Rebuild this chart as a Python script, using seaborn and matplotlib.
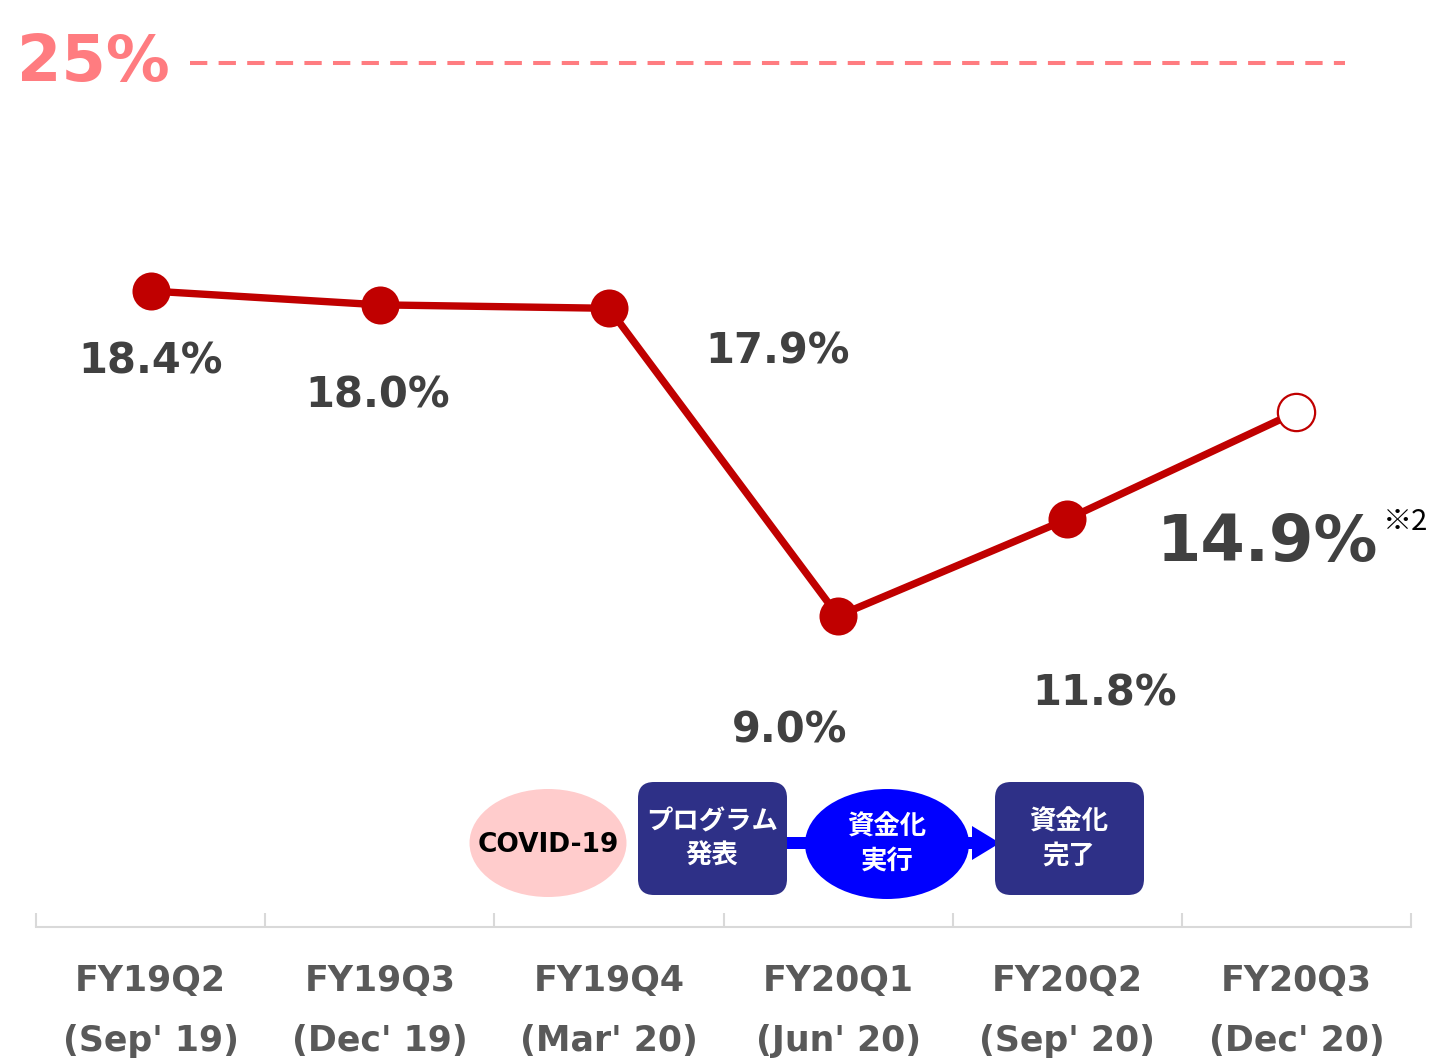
import numpy as np
import pandas as pd
import matplotlib
matplotlib.use('Agg')
import matplotlib.pyplot as plt
import seaborn as sns
from matplotlib.patches import Ellipse, FancyBboxPatch, Rectangle, Polygon


# データ
quarters = ['FY19Q2', 'FY19Q3', 'FY19Q4', 'FY20Q1', 'FY20Q2', 'FY20Q3']
months = ["(Sep' 19)", "(Dec' 19)", "(Mar' 20)", "(Jun' 20)", "(Sep' 20)", "(Dec' 20)"]
ratio = [18.4, 18.0, 17.9, 9.0, 11.8, 14.9]
target = 25.0

# ラベル位置のずれ（ピクセル）
label_offsets = [(0, -70), (-2, -91), (169, -43), (-48, -115), (37, -174), (-29, -131)]

LINE_RED = '#C00000'
TARGET_PINK = '#FF7C80'
LABEL_GRAY = '#404040'
TICK_GRAY = '#595959'
NAVY = '#2E3087'
BLUE = '#0000FF'

sns.set_style('white')
plt.rcParams['font.family'] = ['DejaVu Sans', 'Noto Sans CJK JP']

fig = plt.figure(figsize=(14.33, 10.63), dpi=100)
ax = fig.add_axes([36 / 1433, 136 / 1063, 1375 / 1433, 927 / 1063])

df = pd.DataFrame({'pos': np.arange(len(quarters)), 'ratio': ratio})

# 折れ線
sns.lineplot(data=df, x='pos', y='ratio', color=LINE_RED, linewidth=5.3,
             ax=ax, zorder=2)
# 実績（塗りつぶし）と見込み（白抜き）
sns.scatterplot(data=df.iloc[:-1], x='pos', y='ratio', color=LINE_RED,
                s=750, edgecolor=LINE_RED, linewidth=0, ax=ax, zorder=3)
sns.scatterplot(data=df.iloc[-1:], x='pos', y='ratio', color='white',
                s=720, edgecolor=LINE_RED, linewidth=1.6, ax=ax, zorder=3)

# 値ラベル
for i, (val, (dx, dy)) in enumerate(zip(ratio, label_offsets)):
    big = i == len(ratio) - 1
    ax.annotate(f'{val:.1f}%', (i, val), xytext=(dx, dy),
                textcoords='offset pixels', ha='center', va='center',
                fontsize=46 if big else 30, fontweight='bold',
                color=LABEL_GRAY)
ax.annotate('※2', (len(ratio) - 1, ratio[-1]), xytext=(86, -110),
            textcoords='offset pixels', ha='left', va='center',
            fontsize=21, color='black', annotation_clip=False,
            family=['Noto Sans CJK JP', 'DejaVu Sans'])

# 目標ライン 25%
ax.hlines(target, 0.17, 5.21, colors=TARGET_PINK, linewidth=2.9,
          linestyles=(0, (4.3, 2.8)))
ax.text(-0.25, target, f'{target:.0f}%', ha='center', va='center',
        fontsize=46, fontweight='bold', color=TARGET_PINK)

# 軸
ax.set_xlim(-0.5, len(quarters) - 0.5)
ax.set_ylim(0, 26.82)
ax.set_xlabel('')
ax.set_ylabel('')
ax.set_yticks([])
ax.set_xticks(np.arange(len(quarters)))
ax.set_xticklabels([f'{q}\n{m}' for q, m in zip(quarters, months)],
                   fontsize=25, fontweight='bold', color=TICK_GRAY,
                   linespacing=1.95)
ax.set_xticks(np.arange(-0.5, len(quarters)), minor=True)
ax.tick_params(axis='x', which='both', bottom=True)
ax.tick_params(axis='x', which='major', length=0, pad=27)
ax.tick_params(axis='x', which='minor', direction='in', length=10,
               width=1.5, color='#D9D9D9')
for side in ['top', 'left', 'right']:
    ax.spines[side].set_visible(False)
ax.spines['bottom'].set_color('#D9D9D9')
ax.spines['bottom'].set_linewidth(1.5)

# 下部のプロセス図（装飾）
deco = fig.add_axes([0, 0, 1, 1], zorder=5)
deco.set_xlim(0, 1433)
deco.set_ylim(1063, 0)
deco.axis('off')
deco.patch.set_alpha(0)

jp = ['Noto Sans CJK JP', 'DejaVu Sans']
deco.add_patch(Rectangle((787, 837), 190, 12, color=BLUE, lw=0))
deco.add_patch(Polygon([(972, 826), (1000, 843), (972, 860)], closed=True,
                       color=BLUE, lw=0))
deco.add_patch(Ellipse((548, 843), 157, 108, color='#FFCCCC', lw=0))
deco.text(548, 845, 'COVID-19', ha='center', va='center', fontsize=19,
          fontweight='bold', color='black')
for x0, txt in [(638, 'プログラム\n発表'), (995, '資金化\n完了')]:
    deco.add_patch(FancyBboxPatch((x0, 782), 149, 113,
                                  boxstyle='round,pad=0,rounding_size=16',
                                  color=NAVY, lw=0))
    deco.text(x0 + 74, 839, txt, ha='center', va='center', fontsize=19,
              fontweight='bold', color='white', family=jp, linespacing=1.35)
deco.add_patch(Ellipse((887, 844), 164, 110, color=BLUE, lw=0))
deco.text(887, 844, '資金化\n実行', ha='center', va='center', fontsize=19,
          fontweight='bold', color='white', family=jp, linespacing=1.35)

fig.savefig('out.png', dpi=100)
plt.close(fig)
